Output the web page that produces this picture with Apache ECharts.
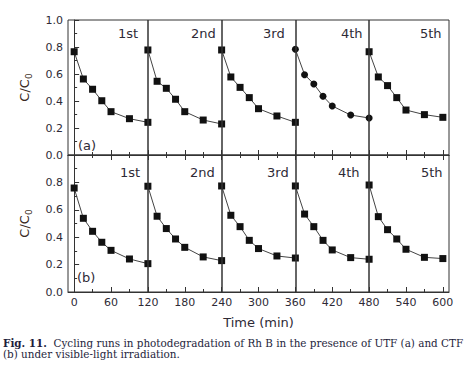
<!DOCTYPE html>
<html><head><meta charset="utf-8">
<script src="https://cdn.jsdelivr.net/npm/echarts@6/dist/echarts.min.js"></script>
<style>html,body{margin:0;padding:0;background:#fff}#c{width:472px;height:378px}</style>
</head><body><div id="c"></div>
<script>
// relative sampling times within one cycle (min)
const cycleTimes = [0, 15, 30, 45, 60, 90, 120];
const cycleLength = 120;
const cycleLabels = ['1st', '2nd', '3rd', '4th', '5th'];
const majorTicks = [0, 60, 120, 180, 240, 300, 360, 420, 480, 540, 600];
const minorTicks = [30, 90, 150, 210, 270, 330, 390, 450, 510, 570];
const separators = [120, 240, 360, 480];

// (a) UTF
const utf1 = [0.765, 0.563, 0.487, 0.402, 0.321, 0.269, 0.242];
const utf2 = [0.778, 0.546, 0.494, 0.413, 0.321, 0.259, 0.230];
const utf3 = [0.778, 0.578, 0.501, 0.425, 0.343, 0.289, 0.242];
const utf4 = [0.783, 0.595, 0.526, 0.435, 0.363, 0.296, 0.274];
const utf5 = [0.765, 0.578, 0.514, 0.425, 0.333, 0.299, 0.279];
// (b) CTF
const ctf1 = [0.759, 0.538, 0.443, 0.363, 0.304, 0.241, 0.207];
const ctf2 = [0.772, 0.553, 0.463, 0.387, 0.326, 0.256, 0.229];
const ctf3 = [0.774, 0.560, 0.477, 0.377, 0.317, 0.263, 0.248];
const ctf4 = [0.774, 0.569, 0.477, 0.377, 0.307, 0.251, 0.239];
const ctf5 = [0.781, 0.550, 0.455, 0.387, 0.312, 0.253, 0.244];

const utfCycles = [utf1, utf2, utf3, utf4, utf5];
const ctfCycles = [ctf1, ctf2, ctf3, ctf4, ctf5];
const utfSymbols = ['rect', 'rect', 'rect', 'circle', 'rect'];
const ctfSymbols = ['rect', 'rect', 'rect', 'rect', 'rect'];

const FONT = '"DejaVu Sans", Verdana, sans-serif';
const CAPFONT = '"DejaVu Serif", serif';
const AX = '#333';
const TXT = '#2e2a36';
const CAPCOL = '#1e1e3c';

function cyclePoints(vals, k) {
  return vals.map((v, i) => [cycleTimes[i] + k * cycleLength, v]);
}

function makeSeries(cycles, symbols, xIdx, yIdx) {
  return cycles.map((vals, k) => {
    const s = {
      type: 'line', xAxisIndex: xIdx, yAxisIndex: yIdx,
      data: cyclePoints(vals, k),
      symbol: symbols[k], symbolSize: 7,
      itemStyle: { color: '#111' },
      lineStyle: { color: '#444', width: 1 },
      clip: false, animation: false, z: 3
    };
    if (k === 0) {
      s.markLine = {
        silent: true, symbol: ['none', 'none'], animation: false,
        label: { show: false },
        lineStyle: { color: '#333', width: 1.5, type: 'solid' },
        data: separators.map(v => ({ xAxis: v }))
      };
    }
    return s;
  });
}

function xAxisMajor(grid, position, showLabel) {
  return {
    type: 'value', gridIndex: grid, position: position, min: -10, max: 610,
    axisLine: { show: true, lineStyle: { color: AX, width: 1 } },
    axisTick: { show: true, inside: true, length: 5, customValues: majorTicks, lineStyle: { color: AX } },
    axisLabel: { show: showLabel, customValues: majorTicks, color: TXT, fontSize: 11, fontFamily: FONT, margin: 5 },
    splitLine: { show: false }
  };
}
function xAxisMinor(grid, position) {
  return {
    type: 'value', gridIndex: grid, position: position, min: -10, max: 610,
    axisLine: { show: false },
    axisTick: { show: true, inside: true, length: 3, customValues: minorTicks, lineStyle: { color: AX } },
    axisLabel: { show: false, customValues: minorTicks },
    splitLine: { show: false }
  };
}
function yAxis(grid, showMax) {
  return {
    type: 'value', gridIndex: grid, min: 0, max: 1, interval: 0.2,
    name: '{a|C/C}{b|0}', nameLocation: 'middle', nameGap: 35,
    nameTextStyle: {
      rich: {
        a: { fontSize: 13, fontFamily: FONT, color: '#3a2a22' },
        b: { fontSize: 9, fontFamily: FONT, color: '#3a2a22', padding: [8, 0, 0, 0] }
      }
    },
    axisLine: { show: true, lineStyle: { color: AX, width: 1 } },
    axisTick: { show: true, inside: true, length: 5, lineStyle: { color: AX } },
    minorTick: { show: true, splitNumber: 2, length: 3, lineStyle: { color: AX } },
    axisLabel: { color: TXT, fontSize: 11, fontFamily: FONT, margin: 5, showMaxLabel: showMax,
      formatter: v => v.toFixed(1) },
    splitLine: { show: false }
  };
}

const xAxes = [
  xAxisMajor(0, 'bottom', false),
  xAxisMinor(0, 'bottom'),
  Object.assign(xAxisMajor(1, 'bottom', true), {
    name: 'Time (min)', nameLocation: 'middle', nameGap: 24,
    nameTextStyle: { fontSize: 13, fontFamily: FONT, color: TXT }
  }),
  xAxisMinor(1, 'bottom'),
  xAxisMajor(1, 'top', false),
  xAxisMinor(1, 'top')
];

const labelPosA = [[118, 33], [191, 33], [263, 33], [341, 33], [420, 33]];
const labelPosB = [[120, 172], [190, 172], [267, 172], [338, 172], [421, 172]];

function txt(t, x, y) {
  return { type: 'text', x: x, y: y, style: { text: t, fill: TXT, font: '13px ' + FONT, align: 'left', verticalAlign: 'middle' } };
}
const graphics = [];
cycleLabels.forEach((t, i) => {
  graphics.push(txt(t, labelPosA[i][0], labelPosA[i][1]));
  graphics.push(txt(t, labelPosB[i][0], labelPosB[i][1]));
});
graphics.push(txt('(a)', 78, 145));
graphics.push(txt('(b)', 77, 277));
graphics.push({ type: 'text', x: 3, y: 343, style: {
  text: '{b|Fig. 11.}{r|  Cycling runs in photodegradation of Rh B in the presence of UTF (a) and CTF}',
  align: 'left', verticalAlign: 'middle',
  rich: {
    b: { fontWeight: 'bold', fontSize: 10.4, fontFamily: CAPFONT, fill: CAPCOL, color: CAPCOL },
    r: { fontSize: 10.4, fontFamily: CAPFONT, fill: CAPCOL, color: CAPCOL }
  }
} });
graphics.push({ type: 'text', x: 3, y: 354, style: {
  text: '(b) under visible-light irradiation.',
  fill: CAPCOL, font: '10.4px ' + CAPFONT, align: 'left', verticalAlign: 'middle'
} });

const chart = echarts.init(document.getElementById('c'), null, { renderer: 'svg' });
chart.setOption({
  animation: false,
  backgroundColor: '#fff',
  grid: [
    { left: 68, top: 20, width: 381, height: 135, show: true, borderColor: AX, borderWidth: 1, backgroundColor: 'transparent' },
    { left: 68, top: 155, width: 381, height: 137, show: true, borderColor: AX, borderWidth: 1, backgroundColor: 'transparent' }
  ],
  xAxis: xAxes,
  yAxis: [yAxis(0, true), yAxis(1, false)],
  series: [].concat(makeSeries(utfCycles, utfSymbols, 0, 0), makeSeries(ctfCycles, ctfSymbols, 2, 1)),
  graphic: graphics
});
</script></body></html>
